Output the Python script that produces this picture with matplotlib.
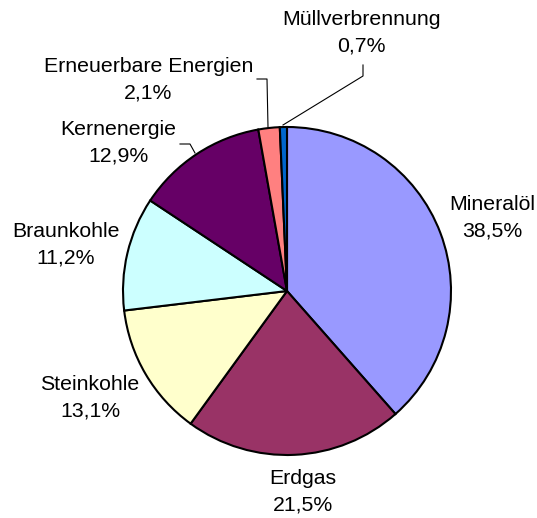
import matplotlib.pyplot as plt

plt.rcParams["font.family"] = ["Liberation Sans", "DejaVu Sans"]

# data, clockwise from 12 o'clock
labels = ["Mineralöl", "Erdgas", "Steinkohle", "Braunkohle", "Kernenergie",
          "Erneuerbare Energien", "Müllverbrennung"]
shares = [38.5, 21.5, 13.1, 11.2, 12.9, 2.1, 0.7]
colors = ["#9999FF", "#993366", "#FFFFCC", "#CCFFFF", "#660066", "#FF8080", "#0066CC"]

# layout in pixel coords (y downwards)
W, H = 537, 518
center = (287, 291)
radius = 164
label_pos = {
  "Mineralöl": (492.5, 217.5),
  "Erdgas": (303, 492),
  "Steinkohle": (90, 397.5),
  "Braunkohle": (65.5, 245),
  "Kernenergie": (118, 142.5),
  "Erneuerbare Energien": (148.5, 79.5),
  "Müllverbrennung": (361.5, 32.5),
}
leaders = {
  "Kernenergie": [(195, 153), (190, 144), (180, 144)],
  "Erneuerbare Energien": [(268, 127), (267, 79), (257, 79)],
  "Müllverbrennung": [(283, 125), (363, 76), (363, 65)],
}

fig = plt.figure(figsize=(W / 100, H / 100), dpi=100)
ax = fig.add_axes([0, 0, 1, 1])

# y axis is flipped, so counterclock=True draws clockwise on screen
ax.pie(shares, colors=colors, startangle=-90, counterclock=True,
       center=center, radius=radius, frame=True,
       wedgeprops=dict(edgecolor="black", linewidth=1.5))
ax.set_xlim(0, W)
ax.set_ylim(H, 0)
ax.set_aspect("equal")
ax.axis("off")

for name, val in zip(labels, shares):
  x, y = label_pos[name]
  txt = f"{name}\n{val:.1f}%".replace(".", ",")
  ax.text(x, y, txt, ha="center", va="center", fontsize=15.3,
          linespacing=1.47)

for pts in leaders.values():
  xs, ys = zip(*pts)
  ax.plot(xs, ys, color="black", linewidth=0.8)

fig.savefig("out.png", dpi=100)
